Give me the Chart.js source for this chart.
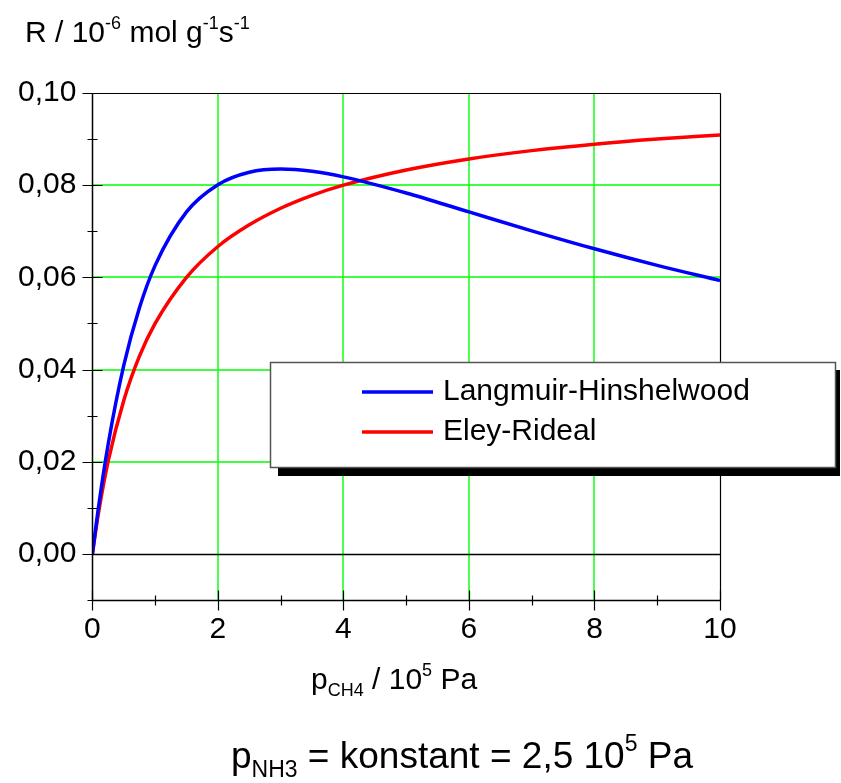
<!DOCTYPE html>
<html>
<head>
<meta charset="utf-8">
<script src="https://cdn.jsdelivr.net/npm/chart.js@4.4.1/dist/chart.umd.min.js"></script>
<style>
    html, body { margin: 0; padding: 0; background: #fff; }
    #wrap { position: relative; width: 841px; height: 783px; font-family: "Liberation Sans", Arial, sans-serif; color: #000; }
    #chart { position: absolute; left: 0; top: 0; }
    .label { position: absolute; white-space: nowrap; font-size: 30px; line-height: 30px; }
    .label sup, .label sub { font-size: 18px; vertical-align: baseline; position: relative; }
    .label sup { top: -0.75em; }
    .label sub { top: 0.4em; }
    #bottom-note { font-size: 37px; line-height: 37px; }
    #bottom-note sub, #bottom-note sup { font-size: 23px; }
</style>
</head>
<body>
<div id="wrap">
    <canvas id="chart" width="841" height="783"></canvas>
    <div class="label" id="y-title" style="left:25px; top:17px;">R / 10<sup>-6</sup> mol g<sup>-1</sup>s<sup>-1</sup></div>
    <div class="label" id="x-title" style="left:311px; top:664px;">p<sub>CH4</sub> / 10<sup>5</sup> Pa</div>
    <div class="label" id="bottom-note" style="left:231px; top:737px;">p<sub>NH3</sub> = konstant = 2,5 10<sup>5</sup> Pa</div>
</div>
<script>
// p_CH4 in 10^5 Pa
const pressure = [0, 0.1, 0.25, 0.5, 0.75, 1, 1.5, 2, 2.5, 3, 3.5, 4, 5, 6, 7, 8, 9, 10];
// R in 10^-6 mol g^-1 s^-1
const langmuirHinshelwood = [0, 0.0104, 0.0237, 0.0409, 0.0534, 0.0626, 0.0742, 0.0801, 0.0828, 0.0835, 0.0830, 0.0818, 0.0783, 0.0742, 0.0701, 0.0662, 0.0626, 0.0593];
const eleyRideal = [0, 0.0091, 0.0200, 0.0333, 0.0429, 0.0500, 0.0600, 0.0667, 0.0714, 0.0750, 0.0778, 0.0800, 0.0833, 0.0857, 0.0875, 0.0889, 0.0900, 0.0909];

const seriesNames = ['Langmuir-Hinshelwood', 'Eley-Rideal'];
const seriesColors = ['#0000ff', '#ff0000'];

const xMin = 0, xMax = 10, xStep = 1;
const yMin = -0.01, yMax = 0.10, yStep = 0.01;

const FONT = '"Liberation Sans", Arial, sans-serif';
const GRID_GREEN = '#00ff00';

function toPoints(xs, ys) {
    return xs.map((x, i) => ({ x, y: ys[i] }));
}

function hundredths(v) {
    return Math.round(v * 100);
}

// green grid, black zero line and the top / right frame, drawn under the curves
const gridPlugin = {
    id: 'grid',
    beforeDatasetsDraw(chart) {
        const ctx = chart.ctx;
        const area = chart.chartArea;
        const xs = chart.scales.x;
        const ys = chart.scales.y;
        const line = (x1, y1, x2, y2, color) => {
            ctx.strokeStyle = color;
            ctx.beginPath();
            ctx.moveTo(x1, y1);
            ctx.lineTo(x2, y2);
            ctx.stroke();
        };
        ctx.save();
        ctx.lineWidth = 1.4;
        for (let v = xMin + 2; v < xMax; v += 2) {
            const px = Math.round(xs.getPixelForValue(v));
            line(px, area.top, px, area.bottom, GRID_GREEN);
        }
        for (let k = 2; k < hundredths(yMax); k += 2) {
            const py = Math.round(ys.getPixelForValue(k / 100));
            line(area.left, py, area.right, py, GRID_GREEN);
        }
        const zero = Math.round(ys.getPixelForValue(0)) + 0.5;
        ctx.lineWidth = 1.3;
        line(area.left, zero, area.right, zero, '#000');
        const top = Math.round(ys.getPixelForValue(yMax)) + 0.5;
        const right = Math.round(xs.getPixelForValue(xMax)) + 0.5;
        ctx.lineWidth = 1.2;
        line(area.left, top, right, top, '#000');
        line(right, top, right, area.bottom, '#000');
        ctx.restore();
    }
};

// axes with ticks that cross the axis line, plus the boxed legend with its shadow
const framePlugin = {
    id: 'frame',
    afterDraw(chart) {
        const ctx = chart.ctx;
        const area = chart.chartArea;
        const xs = chart.scales.x;
        const ys = chart.scales.y;
        const x0 = Math.round(area.left) + 0.5;
        const y0 = Math.round(area.bottom) + 0.5;

        ctx.save();
        ctx.strokeStyle = '#000';
        ctx.lineWidth = 1.5;
        ctx.beginPath();
        ctx.moveTo(x0, area.top);
        ctx.lineTo(x0, y0);
        ctx.moveTo(x0, y0);
        ctx.lineTo(area.right, y0);
        ctx.stroke();

        ctx.lineWidth = 1.2;
        ctx.beginPath();
        for (let v = xMin; v <= xMax; v += xStep) {
            const px = Math.round(xs.getPixelForValue(v)) + 0.5;
            const len = v % 2 === 0 ? 10 : 5;
            ctx.moveTo(px, y0 - len);
            ctx.lineTo(px, y0 + len);
        }
        for (let k = hundredths(yMin); k <= hundredths(yMax); k++) {
            const py = Math.round(ys.getPixelForValue(k / 100)) + 0.5;
            const len = k % 2 === 0 ? 10 : 5;
            ctx.moveTo(x0 - len, py);
            ctx.lineTo(x0 + len, py);
        }
        ctx.stroke();

        // legend
        const box = { left: 270, top: 362, right: 835, bottom: 467 };
        ctx.fillStyle = '#000';
        ctx.fillRect(box.left + 8, box.top + 8, box.right - box.left - 3, box.bottom - box.top + 1);
        ctx.fillStyle = '#fff';
        ctx.fillRect(box.left, box.top, box.right - box.left, box.bottom - box.top);
        ctx.strokeStyle = '#555';
        ctx.lineWidth = 1.5;
        ctx.strokeRect(box.left + 0.5, box.top + 0.5, box.right - box.left, box.bottom - box.top);

        ctx.font = `30px ${FONT}`;
        ctx.textBaseline = 'middle';
        ctx.textAlign = 'left';
        chart.data.datasets.forEach((ds, i) => {
            const ly = 392 + i * 40;
            ctx.strokeStyle = ds.borderColor;
            ctx.lineWidth = 3.5;
            ctx.beginPath();
            ctx.moveTo(362, ly);
            ctx.lineTo(433, ly);
            ctx.stroke();
            ctx.fillStyle = '#000';
            ctx.fillText(ds.label, 443, ly);
        });
        ctx.restore();
    }
};

new Chart(document.getElementById('chart'), {
    type: 'scatter',
    data: {
        datasets: [
            {
                label: seriesNames[0],
                data: toPoints(pressure, langmuirHinshelwood),
                borderColor: seriesColors[0],
                backgroundColor: seriesColors[0],
                borderWidth: 3.5,
                showLine: true,
                pointRadius: 0,
                cubicInterpolationMode: 'monotone'
            },
            {
                label: seriesNames[1],
                data: toPoints(pressure, eleyRideal),
                borderColor: seriesColors[1],
                backgroundColor: seriesColors[1],
                borderWidth: 3.5,
                showLine: true,
                pointRadius: 0,
                cubicInterpolationMode: 'monotone'
            }
        ]
    },
    options: {
        responsive: false,
        animation: false,
        events: [],
        layout: { padding: { left: 2, right: 121, top: 93, bottom: 123 } },
        plugins: {
            legend: { display: false },
            tooltip: { enabled: false }
        },
        scales: {
            x: {
                type: 'linear',
                min: xMin,
                max: xMax,
                border: { display: false },
                grid: { display: false, drawTicks: false },
                ticks: {
                    stepSize: xStep,
                    padding: 12,
                    color: '#000',
                    font: { family: FONT, size: 30 },
                    maxRotation: 0,
                    autoSkip: false,
                    callback: v => (v % 2 === 0 ? String(v) : '')
                }
            },
            y: {
                type: 'linear',
                min: yMin,
                max: yMax,
                border: { display: false },
                grid: { display: false, drawTicks: false },
                ticks: {
                    stepSize: yStep,
                    padding: 16,
                    color: '#000',
                    font: { family: FONT, size: 30 },
                    autoSkip: false,
                    callback: v => {
                        const k = hundredths(v);
                        if (k < 0 || k % 2 !== 0) return '';
                        return (k / 100).toFixed(2).replace('.', ',');
                    }
                }
            }
        }
    },
    plugins: [gridPlugin, framePlugin]
});
</script>
</body>
</html>
